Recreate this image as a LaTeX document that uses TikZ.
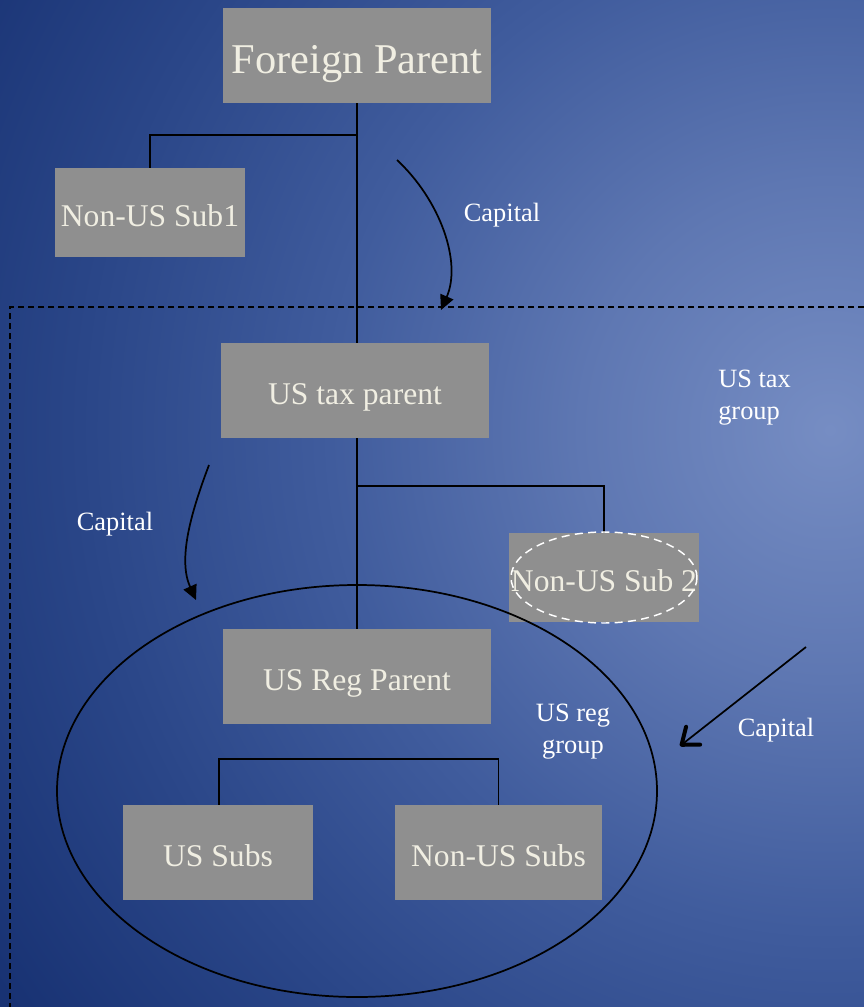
\documentclass[tikz,border=0pt]{standalone}
\usepackage{fontspec}
\setmainfont{Liberation Serif}
\usetikzlibrary{arrows.meta}
\definecolor{bga}{RGB}{118,141,195}
\definecolor{bgb}{RGB}{94,119,178}
\definecolor{bgc}{RGB}{64,92,157}
\definecolor{bgd}{RGB}{42,70,136}
\definecolor{bge}{RGB}{24,50,115}
\definecolor{boxgray}{RGB}{143,143,143}
\definecolor{boxtext}{RGB}{240,238,226}
\pgfdeclareradialshading{bgshade}{\pgfpoint{0bp}{0bp}}{color(0bp)=(bga); color(6.25bp)=(bgb); color(12.5bp)=(bgc); color(18.75bp)=(bgd); color(25bp)=(bge); color(50bp)=(bge)}
\tikzset{
  box/.style={fill=boxgray, text=boxtext, inner sep=0pt, text height=20.4pt, text depth=0pt, font=\fontsize{23.7}{28}\selectfont},
  lbl/.style={text=white, inner sep=0pt, font=\fontsize{19.8}{24}\selectfont},
  conn/.style={line width=1.3pt, black},
  flow/.style={line width=1.3pt, black, -{Triangle[length=11pt,width=10.5pt]}},
}
\begin{document}
\begin{tikzpicture}[x=0.75pt,y=-0.75pt]
\useasboundingbox (0,0) rectangle (864,1007);
\fill[bge] (0,0) rectangle (864,1007);
\begin{scope}
\clip (0,0) rectangle (864,1007);
\shade[shading=bgshade] (830,430) circle (1000);
\end{scope}
% nodes
\node[box, minimum width=201pt, minimum height=71.25pt, text height=27.3pt, font=\fontsize{31.8}{36}\selectfont] (fp) at (357,55.5) {Foreign Parent};
\node[box, minimum width=142.5pt, minimum height=66.75pt] (ns1) at (150,212.5) {Non-US Sub1};
\node[box, minimum width=201pt, minimum height=71.25pt] (tp) at (355,390.5) {US tax parent};
\node[box, minimum width=142.5pt, minimum height=66.75pt] (ns2) at (604,577.5) {Non-US Sub 2};
\node[box, minimum width=201pt, minimum height=71.25pt] (rp) at (357,676.5) {US Reg Parent};
\node[box, minimum width=142.5pt, minimum height=71.25pt] (us) at (218,852.5) {US Subs};
\node[box, minimum width=155.25pt, minimum height=71.25pt] (nus) at (498.5,852.5) {Non-US Subs};
% connectors
\draw[conn] (fp.south) -- (fp.south |- tp.north);
\draw[conn] (tp.south -| rp.north) -- (rp.north);
\coordinate (b1) at (357,135);
\draw[conn] (b1) -| (ns1.north);
\coordinate (b2) at (357,486);
\draw[conn] (b2) -| (ns2.north);
\coordinate (b3) at (219,759);
\draw[conn] (us.north -| b3) -- (b3) -| (nus.north);
% dashed tax group boundary
\coordinate (dtl) at (10,307);
\coordinate (dtr) at (864,307);
\coordinate (dbl) at (10,1007);
\draw[line width=1pt, dash pattern=on 4.5pt off 3pt] (dtr) -- (dtl) -- (dbl);
% reg group ellipse
\coordinate (regc) at (357,791);
\draw[line width=1.3pt] (regc) ellipse [x radius=300, y radius=206];
% dashed white ellipse in Non-US Sub 2
\draw[white, line width=1.1pt, dash pattern=on 6pt off 4pt] (ns2.center) ellipse [x radius=93, y radius=45.5];
% capital arrows
\coordinate (c1s) at (397,160);
\coordinate (c1e) at (441,310);
\draw[flow] (c1s) .. controls (440,200) and (462,262) .. (c1e);
\coordinate (c2s) at (209,465);
\coordinate (c2e) at (196,600);
\draw[flow] (c2s) .. controls (190,515) and (178,560) .. (c2e);
\coordinate (c3s) at (806,647);
\coordinate (c3e) at (680,746);
\draw[line width=1.3pt, -{Straight Barb[length=11pt,width=17pt,line width=3pt 0,round]}] (c3s) -- (c3e);
% labels
\node[lbl] (cap1) at (502,215) {Capital};
\node[lbl] (cap2) at (115,524) {Capital};
\node[lbl] (cap3) at (776,730) {Capital};
\node[lbl, align=left, anchor=west] (taxg) at (718,398) {US tax\\group};
\node[lbl, align=center] (regg) at (573,732) {US reg\\group};
\end{tikzpicture}
\end{document}
